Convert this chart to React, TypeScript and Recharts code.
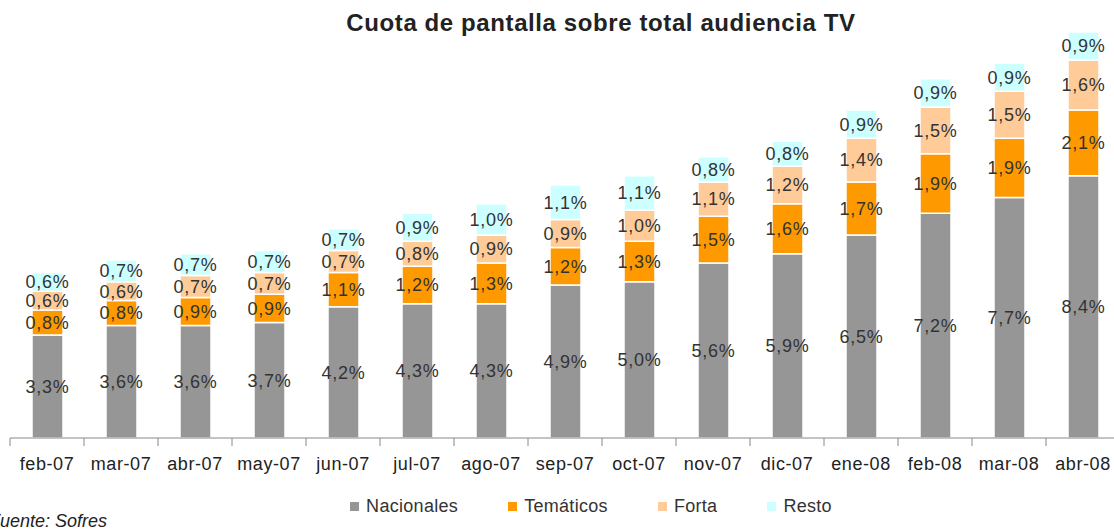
import { BarChart, Bar, XAxis, YAxis, LabelList } from "recharts"

// ─── Data ────────────────────────────────────────────────────────────────────

const MONTHS = [
    "feb-07", "mar-07", "abr-07", "may-07", "jun-07", "jul-07", "ago-07", "sep-07",
    "oct-07", "nov-07", "dic-07", "ene-08", "feb-08", "mar-08", "abr-08",
]
const NACIONALES = [3.3, 3.6, 3.6, 3.7, 4.2, 4.3, 4.3, 4.9, 5.0, 5.6, 5.9, 6.5, 7.2, 7.7, 8.4]
const TEMATICOS = [0.8, 0.8, 0.9, 0.9, 1.1, 1.2, 1.3, 1.2, 1.3, 1.5, 1.6, 1.7, 1.9, 1.9, 2.1]
const FORTA = [0.6, 0.6, 0.7, 0.7, 0.7, 0.8, 0.9, 0.9, 1.0, 1.1, 1.2, 1.4, 1.5, 1.5, 1.6]
const RESTO = [0.6, 0.7, 0.7, 0.7, 0.7, 0.9, 1.0, 1.1, 1.1, 0.8, 0.8, 0.9, 0.9, 0.9, 0.9]

const SERIES = [
    { key: "nacionales", name: "Nacionales", color: "#969696" },
    { key: "tematicos", name: "Temáticos", color: "#FF9900" },
    { key: "forta", name: "Forta", color: "#FFCC99" },
    { key: "resto", name: "Resto", color: "#CCFFFF" },
]

const DATA = MONTHS.map((month, i) => ({
    month,
    nacionales: NACIONALES[i],
    tematicos: TEMATICOS[i],
    forta: FORTA[i],
    resto: RESTO[i],
}))

const FONT = "'Liberation Sans', Arial, sans-serif"
const TICK_SIZE = 8
const TICK_MARGIN = 10

const fmt = (v: number) => `${v.toFixed(1).replace(".", ",")}%`

// category label plus a tick mark on the left boundary of each band
function MonthTick(props: any) {
    const { x, y, payload } = props
    const axisY = y - TICK_SIZE - TICK_MARGIN
    const left = x - (payload.offset ?? 0)
    return (
        <g>
            <line x1={left} x2={left} y1={axisY} y2={axisY + TICK_SIZE} stroke="#888" />
            <text x={x} y={y} dy={14} textAnchor="middle" fill="#222" fontSize={18} letterSpacing={0.6} fontFamily={FONT}>
                {payload.value}
            </text>
        </g>
    )
}

function ChartLegend() {
    return (
        <div style={{ position: "absolute", left: 0, width: 1182, top: 496, display: "flex", justifyContent: "center", gap: 50, fontSize: 18, letterSpacing: 0.3, color: "#333" }}>
            {SERIES.map((s) => (
                <div key={s.key} style={{ display: "flex", alignItems: "center", gap: 7 }}>
                    <span style={{ width: 9, height: 9, background: s.color, display: "inline-block" }} />
                    <span>{s.name}</span>
                </div>
            ))}
        </div>
    )
}

export default function App() {
    return (
        <div style={{ position: "absolute", left: 0, top: 0, width: 1114, height: 532, overflow: "hidden", background: "#fff", fontFamily: FONT }}>
            <div style={{ position: "absolute", left: 0, width: 1202, top: 9, textAlign: "center", fontWeight: "bold", fontSize: 24, letterSpacing: 0.6, color: "#222" }}>
                Cuota de pantalla sobre total audiencia TV
            </div>
            <BarChart width={1130} height={532} data={DATA} margin={{ top: 32, right: 10, bottom: 64, left: 10 }}>
                <XAxis
                    dataKey="month"
                    height={30}
                    axisLine={{ stroke: "#888" }}
                    tickLine={false}
                    tickSize={TICK_SIZE}
                    tickMargin={TICK_MARGIN}
                    tick={<MonthTick />}
                    interval={0}
                />
                <YAxis hide domain={[0, 13]} />
                {SERIES.map((s) => (
                    <Bar
                        key={s.key}
                        dataKey={s.key}
                        name={s.name}
                        stackId="a"
                        fill={s.color}
                        stroke="#fff"
                        strokeWidth={1.5}
                        barSize={31}
                        isAnimationActive={false}
                    >
                        <LabelList
                            dataKey={s.key}
                            position="center"
                            formatter={(v: any) => fmt(Number(v))}
                            fill="#333"
                            fontSize={18}
                            letterSpacing={0.8}
                            fontFamily={FONT}
                        />
                    </Bar>
                ))}
            </BarChart>
            <ChartLegend />
            <div style={{ position: "absolute", left: -11, top: 511, fontStyle: "italic", fontSize: 18, color: "#222" }}>
                Fuente: Sofres
            </div>
        </div>
    )
}
